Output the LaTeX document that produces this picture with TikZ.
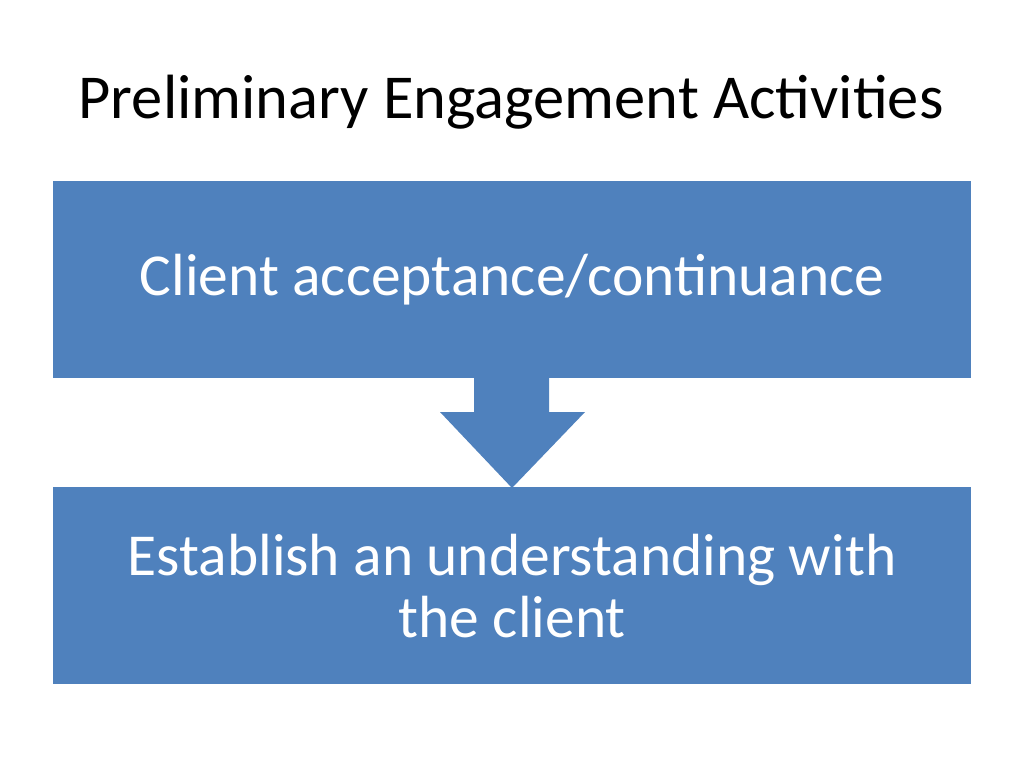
\documentclass[tikz,border=0pt]{standalone}
\usepackage{fontspec}
\setmainfont{Carlito}
\definecolor{boxblue}{HTML}{4F81BD}
\begin{document}
\begin{tikzpicture}[x=1pt,y=-1pt,
  box/.style={fill=boxblue,draw=none,text=white,font=\fontsize{59.5}{62}\selectfont,align=center,anchor=north west,minimum width=918pt,minimum height=197pt,inner sep=0pt}]
\useasboundingbox (0,0) rectangle (1024,768);
\fill[white] (0,0) rectangle (1024,768);
\node[font=\fontsize{62.5}{70}\selectfont] (title) at (511,102) {Preliminary Engagement Activities};
\node[box] (a) at (53,181) {Client acceptance/continuance};
\node[box] (b) at (53,487) {Establish an understanding with\\the client};
\fill[boxblue] (474,378) -- (549,378) -- (549,412) -- (585,412) -- (512,488) -- (440,412) -- (474,412) -- cycle;
\end{tikzpicture}
\end{document}
